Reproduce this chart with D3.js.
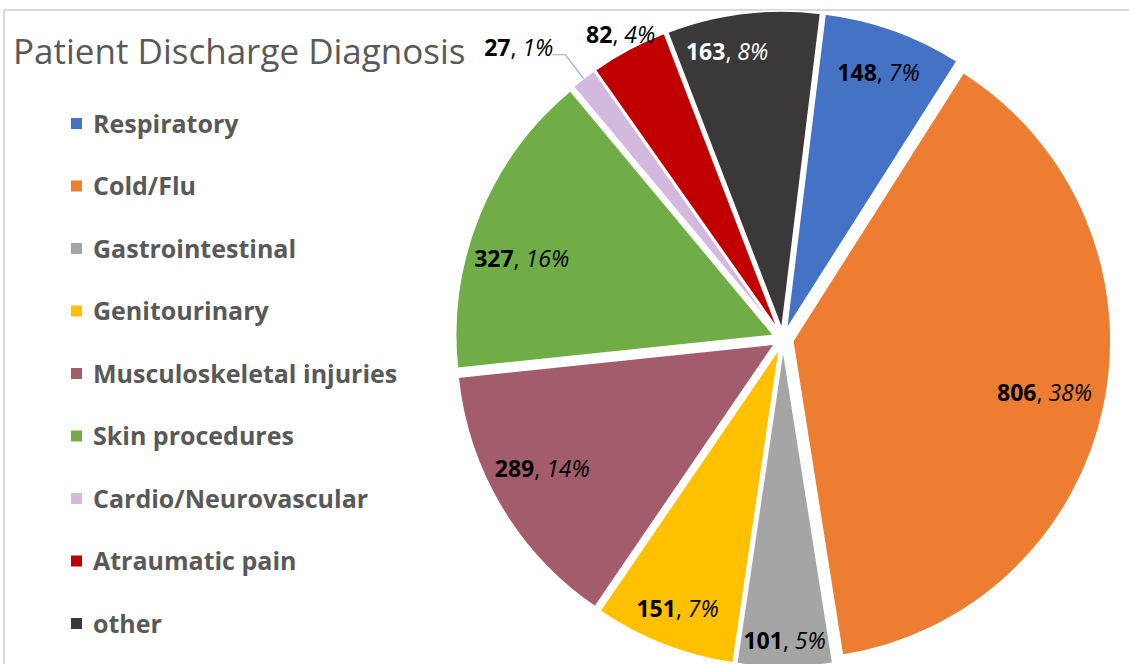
<!DOCTYPE html>
<html>
<head>
<meta charset="utf-8">
<script src="https://cdn.jsdelivr.net/npm/d3@7"></script>
<style>
  body { margin: 0; background: #fff; }
  svg { display: block; }
</style>
</head>
<body>
<div id="chart"></div>
<script>
// data
const categories = ['Respiratory', 'Cold/Flu', 'Gastrointestinal', 'Genitourinary',
  'Musculoskeletal injuries', 'Skin procedures', 'Cardio/Neurovascular', 'Atraumatic pain', 'other'];
const values = [148, 806, 101, 151, 289, 327, 27, 82, 163];
const colors = ['#4472C4', '#ED7D31', '#A5A5A5', '#FFC000', '#A35C6B', '#70AD47', '#D4B9DE', '#C00000', '#3A3838'];

// label placement: [fraction of radius, angle nudge in deg]; 'out' = outside the pie
const labelPos = [[0.89, 0], [0.84, 0], [0.95, 0], [0.91, 0], [0.86, 2.5], [0.86, -5], 'leader', 'out', [0.92, -4]];

const width = 1129, height = 664;
const cx = 783, cy = 339, radius = 318, explode = 10;
const startAngle = 7 * Math.PI / 180;
const textGray = '#595959';
const font = '"Open Sans", sans-serif';
const total = d3.sum(values);

const svg = d3.select('#chart')
  .append('svg')
  .attr('width', width)
  .attr('height', height);

// frame lines
svg.append('line')
  .attr('x1', 4).attr('x2', width).attr('y1', 10).attr('y2', 10)
  .attr('stroke', '#d9d9d9').attr('stroke-width', 2);
svg.append('line')
  .attr('x1', 4).attr('x2', 4).attr('y1', 10).attr('y2', height)
  .attr('stroke', '#d9d9d9').attr('stroke-width', 2);

// Title
svg.append('text')
  .attr('x', 13)
  .attr('y', 64)
  .style('font-family', font)
  .style('font-size', '35px')
  .attr('fill', textGray)
  .text('Patient Discharge Diagnosis');

// Legend
const legend = svg.append('g');
categories.forEach((c, i) => {
  const y = 124 + i * 62.5;
  legend.append('rect')
    .attr('x', 71).attr('y', y - 6)
    .attr('width', 11).attr('height', 11)
    .attr('fill', colors[i]);
  legend.append('text')
    .attr('x', 93).attr('y', y)
    .attr('dy', '0.35em')
    .style('font-family', font)
    .style('font-weight', 'bold')
    .style('font-size', '25px')
    .attr('fill', textGray)
    .text(c);
});

// Pie
const pie = d3.pie()
  .sort(null)
  .startAngle(startAngle)
  .endAngle(startAngle + 2 * Math.PI);

const arcs = pie(values);
const arc = d3.arc().innerRadius(0).outerRadius(radius);

const g = svg.append('g')
  .attr('transform', `translate(${cx},${cy})`);

const mid = d => (d.startAngle + d.endAngle) / 2;
const polar = (a, r) => [r * Math.sin(a), -r * Math.cos(a)];

g.selectAll('path')
  .data(arcs)
  .enter()
  .append('path')
  .attr('transform', d => {
    const [x, y] = polar(mid(d), explode);
    return `translate(${x},${y})`;
  })
  .attr('d', arc)
  .attr('fill', (d, i) => colors[i])
  .attr('stroke', '#fff')
  .attr('stroke-width', 1.5);

// Data labels
arcs.forEach((d, i) => {
  const a = mid(d);
  const pct = Math.round(values[i] / total * 100);
  let x, y, anchor = 'middle';
  if (labelPos[i] === 'leader') {
    const p0 = polar(a, radius + explode);
    const p1 = polar(a, radius + 40);
    const p2 = [p1[0] - 13, p1[1]];
    g.append('polyline')
      .attr('points', [p0, p1, p2].map(p => p.join(',')).join(' '))
      .attr('fill', 'none')
      .attr('stroke', '#a6a6a6')
      .attr('stroke-width', 1.2);
    x = p2[0] + 1; y = p2[1] - 7; anchor = 'end';
  } else if (labelPos[i] === 'out') {
    [x, y] = polar(a, radius + 27);
  } else {
    const [f, nudge] = labelPos[i];
    [x, y] = polar(a + nudge * Math.PI / 180, radius * f);
  }
  const t = g.append('text')
    .attr('x', x).attr('y', y)
    .attr('dy', '0.35em')
    .attr('text-anchor', anchor)
    .style('font-family', font)
    .style('font-size', '23px')
    .attr('fill', categories[i] === 'other' ? '#fff' : '#000');
  t.append('tspan').style('font-weight', 'bold').text(values[i]);
  t.append('tspan').text(', ');
  t.append('tspan').style('font-style', 'italic').text(pct + '%');
});
</script>
</body>
</html>
